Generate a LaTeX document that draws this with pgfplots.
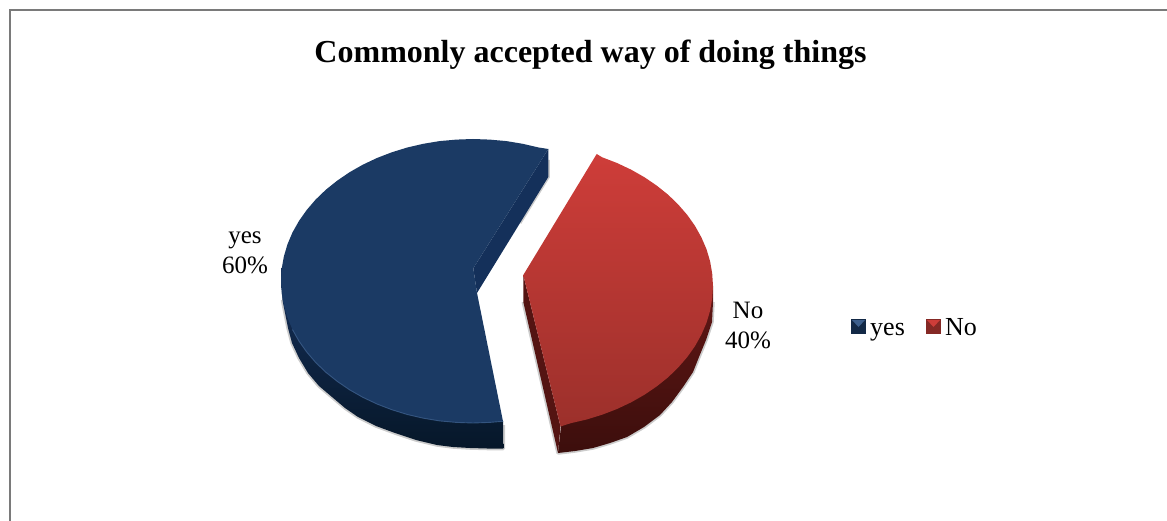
\documentclass[border=0pt]{standalone}
\usepackage{fontspec}
\setmainfont{Liberation Serif}
\usepackage{pgfplots}
\pgfplotsset{compat=1.18}
\definecolor{blueface}{HTML}{1B3A64}
\definecolor{bluerim}{HTML}{3D5F8C}
\definecolor{bluewallA}{HTML}{16305A}
\definecolor{bluewallB}{HTML}{061729}
\definecolor{bluecut}{HTML}{14305A}
\definecolor{redtop}{HTML}{CE3D39}
\definecolor{redbot}{HTML}{9C302B}
\definecolor{redwallA}{HTML}{611715}
\definecolor{redwallB}{HTML}{3C0E0C}
\definecolor{redcut}{HTML}{541412}
\begin{document}
\begin{tikzpicture}
\begin{axis}[
  width=1167pt, height=521pt, scale only axis,
  xmin=0, xmax=1167, ymin=0, ymax=521, y dir=reverse,
  hide axis, clip=true,
]
% full page area
\path (axis cs:0,0) rectangle (axis cs:1167,521);
% chart frame: left and top only
\addplot[draw=black!52, line width=2pt] coordinates {(10,521) (10,10) (1167,10)};

% soft shadow under the two slices
\addplot[draw=black!20, line width=3.5pt, line join=round] coordinates {
 (282.5,300) (285,313) (288,328) (292,343) (299,358) (308,373) (319,386) (332,397) (345,408) (358,417) (376,426) (395,433) (416,440) (437,445) (453,447) (470,448) (487,448.5) (503.3,448.5) (503.3,425)};
\addplot[draw=black!20, line width=3pt] coordinates {(548.3,160) (548.3,177) (520,223)};
\addplot[draw=black!20, line width=3.5pt, line join=round] coordinates {
 (713,302) (712,322) (706,340) (699,357) (693,372) (683,387) (672,402) (660,415) (644,427) (627,437) (610,443) (593,448) (575,451) (558,453) (523.3,302)};

% blue slice: outer wall
\addplot[draw=none, top color=bluewallA, bottom color=bluewallB] coordinates {
 (281.7,268) (281.7,287) (282.5,300) (285,313) (288,328) (292,343) (299,358) (308,373) (319,386) (332,397) (345,408) (358,417) (376,426) (395,433) (416,440) (437,445) (453,447) (470,448) (487,448.5) (503.3,448.5) (503,421)
 (456,380) (340,340)} -- cycle;
% blue slice: cut wall
\addplot[draw=none, fill=bluecut] coordinates {
 (473.3,268.3) (548.3,149) (548.3,177) (477,293)} -- cycle;
% blue slice: top face
\addplot[draw=none, fill=blueface] coordinates {
 (548.3,149) (538.7,147.5) (522.7,143.8) (506.4,141.1) (489.7,139.6) (473,139) (456.3,139.6) (439.6,141.1) (423.3,143.8) (407.3,147.5) (391.8,152.3) (377,158) (362.8,164.7) (349.6,172.2)
 (337.3,180.6) (325.9,189.7) (315.7,199.5) (306.7,210) (299,220.9) (292.5,232.4) (287.5,244.2) (283.9,256.3) (281.7,268.6) (281,281) (281.7,293.4) (283.9,305.7) (287.5,317.8) (292.5,329.6)
 (299,341.1) (306.7,352) (315.7,362.5) (325.9,372.3) (337.3,381.4) (349.6,389.8) (362.8,397.3) (377,404) (391.8,409.7) (407.3,414.5) (423.3,418.2) (439.6,420.9) (456.3,422.4) (473,423)
 (489.7,422.4) (503,421.3) (477,293) (473.3,268.3)} -- cycle;
% blue slice: highlight along the front edge
\addplot[draw=bluerim, line width=0.9pt, opacity=0.8] coordinates {
 (292.5,329.6) (299,341.1) (306.7,352) (315.7,362.5) (325.9,372.3) (337.3,381.4) (349.6,389.8) (362.8,397.3) (377,404) (391.8,409.7) (407.3,414.5) (423.3,418.2) (439.6,420.9) (456.3,422.4) (473,423) (489.7,422.4) (503,421.3)};

% red slice: outer wall
\addplot[draw=none, top color=redwallA, bottom color=redwallB] coordinates {
 (713,286) (713,302) (712,322) (706,340) (699,357) (693,372) (683,387) (672,402) (660,415) (644,427) (627,437) (610,443) (593,448) (575,451) (558,453) (561,426) (640,380) (700,320)} -- cycle;
% red slice: cut wall
\addplot[draw=none, fill=redcut] coordinates {
 (523.3,275) (523.3,302) (558,453) (560.5,426.5)} -- cycle;
% red slice: top face
\addplot[draw=none, top color=redtop, bottom color=redbot] coordinates {
 (596.7,154) (602.2,157.3) (617,163) (631.2,169.7) (644.4,177.2) (656.7,185.6) (668.1,194.7) (678.2,204.5) (687.3,215) (695,225.9) (701.4,237.4) (706.5,249.2) (710.1,261.3) (712.2,273.6) (713,286)
 (712.2,298.4) (710.1,310.7) (706.5,322.8) (701.4,334.6) (695,346.1) (687.3,357) (678.2,367.5) (668.1,377.3) (656.7,386.4) (644.4,394.8) (631.2,402.3) (617,409) (602.2,414.7) (586.7,419.5) (570.7,423.2) (560.5,426.5)
 (523.3,275)} -- cycle;

% legend keys
\addplot[draw=none, fill=blueface!70!black] coordinates {(851,319) (866,319) (866,334) (851,334)} -- cycle;
\addplot[draw=none, fill=bluerim] coordinates {(852,320) (865,320) (858.5,327)} -- cycle;
\addplot[draw=none, fill=redbot!85!black] coordinates {(926,319) (941,319) (941,334) (926,334)} -- cycle;
\addplot[draw=none, fill=redtop] coordinates {(927,320) (940,320) (933.5,327)} -- cycle;

\node[anchor=center, inner sep=0pt, font=\fontsize{32}{38}\selectfont\bfseries] at (axis cs:590.5,54.5) {Commonly accepted way of doing things};
\node[align=center, inner sep=0pt, anchor=center, font=\fontsize{25}{30}\selectfont] at (axis cs:245,253) {yes\\60\%};
\node[align=center, inner sep=0pt, anchor=center, font=\fontsize{25}{30}\selectfont] at (axis cs:748,325) {No\\40\%};
\node[anchor=base west, inner sep=0pt, font=\fontsize{26}{30}\selectfont] at (axis cs:870,335) {yes};
\node[anchor=base west, inner sep=0pt, font=\fontsize{26}{30}\selectfont] at (axis cs:945,335) {No};
\end{axis}
\end{tikzpicture}
\end{document}
